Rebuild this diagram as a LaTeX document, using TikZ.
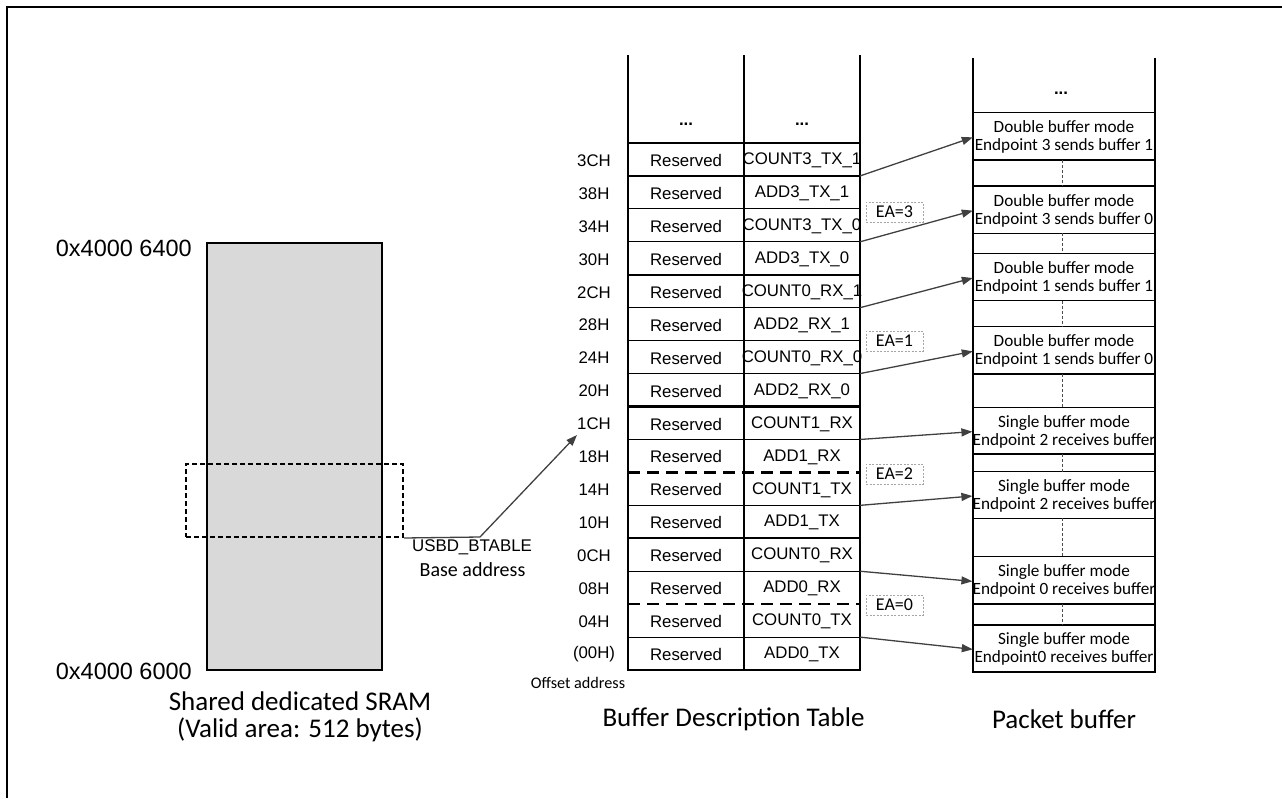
\documentclass[tikz,border=0pt]{standalone}
\usepackage{fontspec}
\setmainfont{Carlito}
\newfontfamily\arial{Liberation Sans}
\usetikzlibrary{arrows.meta}
\begin{document}
\begin{tikzpicture}[x=1pt,y=-1pt,
  celltext/.style={font=\arial\fontsize{16.8}{18}\selectfont, inner sep=0pt},
  pbtext/.style={font=\fontsize{17.2}{18}\selectfont, align=center, inner sep=0pt, minimum width=182pt, minimum height=47pt},
  eabox/.style={draw=gray!70, dash pattern=on 2pt off 1.5pt, line width=0.7pt, minimum width=57pt, minimum height=20pt, inner sep=0pt, font=\fontsize{18}{18}\selectfont},
  conn/.style={draw=black!75, line width=1.3pt, -{Triangle[length=11pt,width=8pt]}},
  gridthin/.style={line width=1.2pt},
  gridbold/.style={line width=2.3pt},
  griddash/.style={line width=2.3pt, dash pattern=on 12pt off 7pt},
  pbline/.style={line width=1.5pt},
  pbdash/.style={line width=0.7pt, draw=black!70, dash pattern=on 3pt off 2pt},
  title/.style={font=\fontsize{27}{27}\selectfont, align=center, inner sep=0pt},
]
\useasboundingbox (0,0) rectangle (1282,798);
% outer frame (only top and left visible)
\draw[line width=2pt] (6.5,798) -- (6.5,6.5) -- (1282,6.5);

% ---------- Shared SRAM ----------
\node[draw, line width=2pt, fill=gray!30, minimum width=175pt, minimum height=427pt, inner sep=0pt] (sram) at (294.5,456.5) {};
\node[draw, line width=2pt, dash pattern=on 5pt off 3pt, minimum width=217pt, minimum height=73pt, inner sep=0pt] (win) at (294.5,500.5) {};
\node[anchor=east, inner sep=0pt, font=\arial\fontsize{23.5}{26}\selectfont] (top) at (192,248) {0x4000 6400};
\node[anchor=east, inner sep=0pt, font=\arial\fontsize{23.5}{26}\selectfont] (bot) at (192,671) {0x4000 6000};
\node[title] (sramtitle) at (300,717) {Shared dedicated SRAM\\(Valid area: 512 bytes)};

% base address connector
\coordinate (ba) at (win.south east);
\coordinate (bend) at (480,537);
\coordinate (tip) at (577,435);
\draw[conn] (ba) -- (bend) -- (tip);
\node[inner sep=0pt, font=\arial\fontsize{16.9}{18}\selectfont] (usbd) at (472,547) {USBD\_BTABLE};
\node[inner sep=0pt, font=\fontsize{20}{22}\selectfont] (base) at (472.5,570) {Base address};

% ---------- Buffer description table ----------
\foreach \i/\o/\n in {0/3CH/COUNT3\_TX\_1, 1/38H/ADD3\_TX\_1, 2/34H/COUNT3\_TX\_0, 3/30H/ADD3\_TX\_0,
  4/2CH/COUNT0\_RX\_1, 5/28H/ADD2\_RX\_1, 6/24H/COUNT0\_RX\_0, 7/20H/ADD2\_RX\_0,
  8/1CH/COUNT1\_RX, 9/18H/ADD1\_RX, 10/14H/COUNT1\_TX, 11/10H/ADD1\_TX,
  12/0CH/COUNT0\_RX, 13/08H/ADD0\_RX, 14/04H/COUNT0\_TX, 15/{(00H)}/ADD0\_TX}{
  \node[celltext] (off\i) at (594,{143+(\i+0.5)*32.94+1}) {\o};
  \node[celltext] (res\i) at (686,{143+(\i+0.5)*32.94+1}) {Reserved};
  \node[celltext] (reg\i) at (802,{143+(\i+0.5)*32.94+1}) {\n};
}
\node[celltext, font=\arial\bfseries\fontsize{16.8}{18}\selectfont] (dotsA) at (686,124) {...};
\node[celltext, font=\arial\bfseries\fontsize{16.8}{18}\selectfont] (dotsB) at (802,124) {...};
% horizontal grid lines
\foreach \k in {1,2,3,5,6,7,9,11,13,15}{
  \draw[gridthin] (628,{143+\k*32.94}) -- (860,{143+\k*32.94});
}
\foreach \k in {0,4,8,12,16}{
  \draw[gridbold] (628,{143+\k*32.94}) -- (860,{143+\k*32.94});
}
\foreach \k in {10,14}{
  \draw[griddash] (628,{143+\k*32.94}) -- (860,{143+\k*32.94});
}
% vertical lines
\foreach \x in {628,744,860}{
  \draw[gridbold] (\x,55) -- (\x,671);
}
\node[inner sep=0pt, font=\fontsize{16.2}{18}\selectfont] (offlbl) at (578,683) {Offset address};
\node[title] (bdttitle) at (733.5,719) {Buffer Description Table};

% EA labels
\node[eabox] (ea3) at (894.5,212) {EA=3};
\node[eabox] (ea1) at (894.5,341) {EA=1};
\node[eabox] (ea2) at (894.5,474) {EA=2};
\node[eabox] (ea0) at (894.5,605) {EA=0};

% ---------- Packet buffer ----------
\draw[line width=2pt] (973,58) -- (973,672);
\draw[line width=2pt] (1155,58) -- (1155,672);
\node[inner sep=0pt, font=\arial\bfseries\fontsize{16.8}{18}\selectfont] (dotsC) at (1061,93) {...};
\foreach \j/\t/\b/\l/\m in {
  1/112.7/160/Double buffer mode/Endpoint 3 sends buffer 1,
  2/186/233.3/Double buffer mode/Endpoint 3 sends buffer 0,
  3/253.3/300.7/Double buffer mode/Endpoint 1 sends buffer 1,
  4/326.7/374/Double buffer mode/Endpoint 1 sends buffer 0,
  5/407.3/454/Single buffer mode/Endpoint 2 receives buffer,
  6/471.7/518.3/Single buffer mode/Endpoint 2 receives buffer,
  7/556.7/604/Single buffer mode/Endpoint 0 receives buffer,
  8/625/671.7/Single buffer mode/Endpoint0 receives buffer}{
  \draw[pbline] (973,\t) -- (1155,\t);
  \draw[pbline] (973,\b) -- (1155,\b);
  \node[pbtext] (pc\j) at (1064,{(\t+\b)/2+1}) {\l\\\m};
}
\draw[line width=2.2pt] (972,671.7) -- (1156,671.7);
% dashed gap markers
\foreach \a/\c in {160/186, 233.3/253.3, 300.7/326.7, 374/407.3, 454/471.7, 518.3/556.7, 604/625}{
  \draw[pbdash] (1062,\a) -- (1062,\c);
}
\node[title] (pbtitle) at (1064,719) {Packet buffer};

% arrows from table to packet buffer
\foreach \k/\j in {1/1,3/2,5/3,7/4,9/5,11/6,13/7,15/8}{
  \coordinate (src\j) at (860,{143+\k*32.94});
  \draw[conn] (src\j) -- (pc\j.west);
}
\end{tikzpicture}
\end{document}
